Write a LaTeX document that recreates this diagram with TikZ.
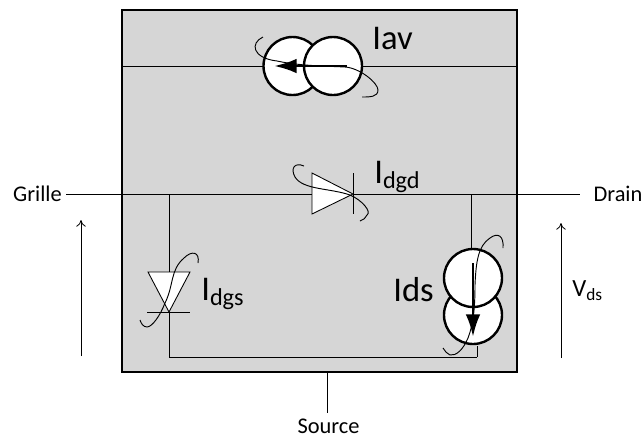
\documentclass[tikz,border=0pt]{standalone}
\usepackage{fontspec}
\setmainfont{Carlito}
\usetikzlibrary{arrows.meta, positioning}
\tikzstyle{boitier} = [draw=black, fill=black!16, line width=1.1pt, rectangle, minimum width=296pt, minimum height=271.5pt, inner sep=0pt]
\tikzstyle{generateur} = [draw=black, fill=white, line width=1.8pt, circle, minimum size=43.5pt, inner sep=0pt]
\tikzstyle{fil} = [draw=black, line width=0.65pt]
\tikzstyle{diode} = [draw=black, fill=white, line width=0.65pt]
\tikzstyle{courbe} = [draw=black, line width=0.7pt]
\tikzstyle{fleche} = [draw=black, line width=2.2pt, -{Latex[length=17pt, width=11pt]}]
\tikzstyle{flechev} = [draw=black, line width=0.6pt, -{To[length=5pt, width=7pt]}]
\tikzstyle{petit} = [font=\fontsize{16.8}{18}\selectfont, inner sep=0pt, outer sep=3.5pt]
\tikzstyle{grand} = [font=\fontsize{26}{28}\selectfont, inner sep=0pt]

\begin{document}
\begin{tikzpicture}[x=0.75pt, y=-0.75pt]
	\useasboundingbox (0,0) rectangle (643,437);
	\node [boitier] (box) at (319.5,191) {};
	\node [petit] (grille) at (37.5,194) {Grille};
	\node [petit, outer xsep=10pt] (drain) at (618,194) {Drain};
	\node [petit, outer sep=0pt] (src) at (328.5,426) {Source};
	\coordinate (nA) at (169,194);
	\coordinate (nB) at (471,194);
	\coordinate (nC) at (169,357);
	\coordinate (nD) at (477,357);
	\coordinate (nS) at (327,413);
	\coordinate (topG) at (box.west |- 0,66);
	\coordinate (topD) at (box.east |- 0,66);
	\coordinate (anode) at (312,194);
	\coordinate (cathode) at (353,194);
	\coordinate (hautD) at (169,272);
	\coordinate (basD) at (169,312);

	\draw [fil] (grille) -- (anode);
	\draw [fil] (cathode) -- (drain);
	\draw [fil] (nA) -- (hautD);
	\draw [fil] (basD) -- (nC) -- (nD);
	\draw [fil] (box.south -| nS) -- (nS);
	\draw [fil] (topG) -- (topD);

	\node [generateur] (iavA) at (292.5,66) {};
	\node [generateur] (iavB) at (333,66) {};
	\draw [fleche] (347,66) -- (274,66);
	\draw [courbe] (263,37) .. controls (250,43) and (252,58) .. (277,61) .. controls (300,66) and (325,66) .. (345,67) .. controls (360,68) and (378,83) .. (378,90) .. controls (378,97) and (370,97) .. (362,97);

	\draw [diode] (anode |- 0,173) -- (cathode) -- (anode |- 0,214) -- cycle;
	\draw [fil] (cathode |- 0,173) -- (cathode |- 0,214);
	\draw [courbe] (304,166) .. controls (295,162) and (290,168) .. (295,177) .. controls (303,190) and (330,188) .. (350,195) .. controls (362,200) and (372,212) .. (367,215) .. controls (366,218) and (363,220) .. (360,221);

	\draw [diode] (148,272) -- (190,272) -- (basD) -- cycle;
	\draw [fil] (147,312) -- (190,312);
	\draw [courbe] (198,263) .. controls (200,252) and (192,250) .. (184,258) .. controls (170,270) and (174,285) .. (165,303) .. controls (160,316) and (152,327) .. (147,327) .. controls (143,327) and (141,323) .. (140,320);

	\node [generateur] (idsB) at (473,315) {};
	\node [generateur] (idsA) at (473,278) {};
	\draw [fil] (nB) -- (nB |- idsA.north);
	\draw [fil] (nD) -- (nD |- 0,346);
	\draw [fleche] (473,263) -- (473,337);
	\draw [courbe] (503,248) .. controls (504,236) and (498,232) .. (490,238) .. controls (478,246) and (476,262) .. (475,285) .. controls (475,310) and (473,325) .. (468,338) .. controls (463,350) and (456,356) .. (450,355) .. controls (447,354) and (445,351) .. (443,348);

	\node [grand, anchor=west] (iav) at (372,38) {Iav};
	\node [grand, anchor=west] (idgd) at (374,177) {I\textsubscript{dgd}};
	\node [grand, anchor=west] (idgs) at (201,294) {I\textsubscript{dgs}};
	\node [grand, anchor=west] (ids) at (393,290) {Ids};
	\node [font=\fontsize{18.5}{20}\selectfont, inner sep=0pt, anchor=west] (vds) at (572,291) {V\textsubscript{ds}};

	\coordinate (vgB) at (81,356);
	\coordinate (vgH) at (81,220);
	\coordinate (vdB) at (561,358);
	\coordinate (vdH) at (561,223);
	\draw [flechev] (vgB) -- (vgH);
	\draw [flechev] (vdB) -- (vdH);
\end{tikzpicture}
\end{document}
